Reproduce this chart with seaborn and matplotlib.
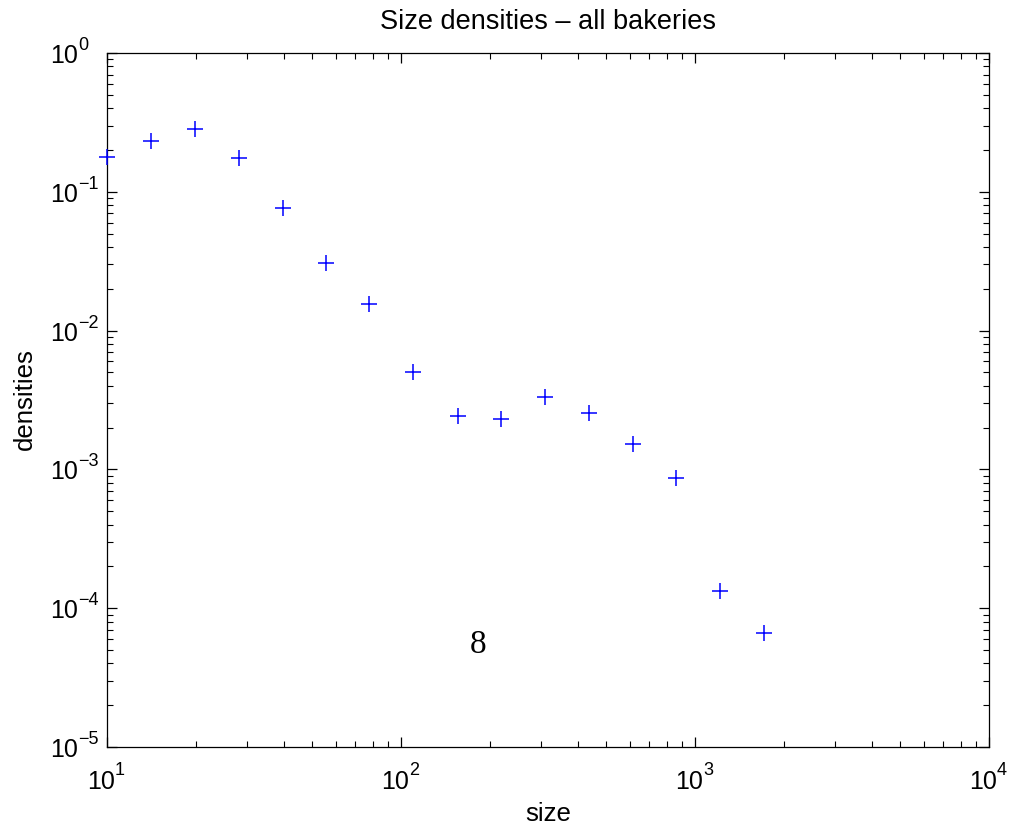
import matplotlib
matplotlib.use("Agg")
import matplotlib.pyplot as plt
import seaborn as sns
import numpy as np
import pandas as pd
from matplotlib.ticker import LogLocator, FixedLocator, NullFormatter

# Data
sizes = [10, 14.1, 19.9, 28.1, 39.7, 55.6, 77.8, 109.9, 156.2, 218.9,
         308.9, 436.1, 615.3, 861.9, 1216, 1717]
densities = [0.179, 0.232, 0.283, 0.174, 0.076, 0.0307, 0.01555, 0.00506,
             0.00244, 0.00231, 0.00334, 0.00254, 0.00152, 0.000863,
             0.000133, 0.0000659]
x_ticks = [1e1, 1e2, 1e3, 1e4]
x_exponents = ["1", "2", "3", "4"]
y_ticks = [1e-5, 1e-4, 1e-3, 1e-2, 1e-1, 1e0]
y_exponents = ["\u22125", "\u22124", "\u22123", "\u22122", "\u22121", "0"]
title = "Size densities \u2013 all bakeries"
xlabel = "size"
ylabel = "densities"
annot_text = "8"
annot_x, annot_y = 183, 4.75e-5

sns.set_style("ticks")
plt.rcParams['font.family'] = ['Liberation Sans', 'DejaVu Sans']
plt.rcParams['text.color'] = 'black'
plt.rcParams['axes.labelcolor'] = 'black'
plt.rcParams['xtick.color'] = 'black'
plt.rcParams['ytick.color'] = 'black'

PX = 0.72  # points per pixel at dpi=100

fig = plt.figure(figsize=(10.18, 8.25), dpi=100)
ax = fig.add_axes([107 / 1018, 1 - 747 / 825, 882 / 1018, 694 / 825])

df = pd.DataFrame({"size": sizes, "density": densities})
sns.scatterplot(data=df, x="size", y="density", marker="+", s=135,
                color=(0, 0, 1), linewidth=1.1, ax=ax, legend=False,
                clip_on=False, zorder=5)
ax.set_xlabel("")
ax.set_ylabel("")

ax.set_xscale("log")
ax.set_yscale("log")
ax.set_xlim(1e1, 1e4)
ax.set_ylim(1e-5, 1e0)

ax.xaxis.set_major_locator(FixedLocator(x_ticks))
ax.yaxis.set_major_locator(FixedLocator(y_ticks))
ax.xaxis.set_minor_locator(LogLocator(base=10, subs=np.arange(2, 10), numticks=20))
ax.yaxis.set_minor_locator(LogLocator(base=10, subs=np.arange(2, 10), numticks=20))
ax.xaxis.set_minor_formatter(NullFormatter())
ax.yaxis.set_minor_formatter(NullFormatter())

ax.tick_params(which="both", direction="in", top=True, right=True, colors="black",
               labelbottom=False, labelleft=False)
ax.tick_params(which="major", length=7, width=0.9)
ax.tick_params(which="minor", length=4, width=0.8)
for sp in ax.spines.values():
    sp.set_visible(True)
    sp.set_linewidth(0.9)
    sp.set_color("black")

# Tick labels in MATLAB style: base "10" plus separate exponent
for xt, ex in zip(x_ticks, x_exponents):
    ax.annotate("10", xy=(xt, 0), xycoords=("data", "axes fraction"),
                xytext=(8 * PX, -42 * PX), textcoords="offset points",
                ha="right", va="baseline", fontsize=18, color="black",
                annotation_clip=False)
    ax.annotate(ex, xy=(xt, 0), xycoords=("data", "axes fraction"),
                xytext=(8 * PX, -28 * PX), textcoords="offset points",
                ha="left", va="baseline", fontsize=13, color="black",
                annotation_clip=False)
for yt, ex in zip(y_ticks, y_exponents):
    ax.annotate("10", xy=(0, yt), xycoords=("axes fraction", "data"),
                xytext=(-29 * PX, -10 * PX), textcoords="offset points",
                ha="right", va="baseline", fontsize=18, color="black",
                annotation_clip=False)
    ax.annotate(ex, xy=(0, yt), xycoords=("axes fraction", "data"),
                xytext=(-29 * PX, 3 * PX), textcoords="offset points",
                ha="left", va="baseline", fontsize=13, color="black",
                annotation_clip=False)

ax.set_title(title, fontsize=19.5, pad=24 * PX, color="black")
fig.text(548 / 1018, 4 / 825, xlabel, fontsize=18.6, ha="center",
         va="baseline", color="black")
fig.text(31.5 / 1018, 1 - 399 / 825, ylabel, fontsize=18.6, rotation=90,
         rotation_mode="anchor", ha="center", va="baseline", color="black")

ax.text(annot_x, annot_y, annot_text, fontsize=24, color="black",
        family="Liberation Serif", ha="center", va="baseline")

fig.savefig("out.png", dpi=100)
